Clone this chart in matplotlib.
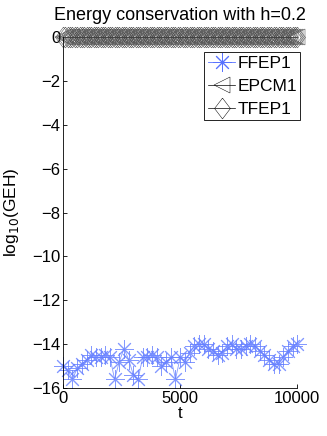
import numpy as np
import matplotlib
matplotlib.use("Agg")
import matplotlib.pyplot as plt

plt.rcParams['font.family'] = ['Liberation Sans', 'DejaVu Sans']

# FFEP1 error, sampled every 200 time units
t_ffep = list(range(0, 10001, 200))
geh_ffep = [-15.0, -15.2, -15.6, -15.1, -14.9, -14.7, -14.5, -14.6, -14.6, -14.5,
            -14.6, -15.6, -14.8, -14.2, -14.7, -15.4, -15.6, -14.6, -14.6, -14.5,
            -14.6, -15.0, -14.8, -14.6, -15.6, -14.6, -14.8, -14.4, -14.1, -14.0,
            -14.0, -14.2, -14.3, -14.5, -14.4, -14.1, -14.0, -14.2, -14.2, -14.1,
            -14.0, -14.1, -14.3, -14.5, -14.7, -14.9, -14.9, -14.6, -14.3, -14.1,
            -14.0]

# EPCM1 / TFEP1 stay at log10(GEH) ~ 0
t_dense = list(range(0, 10001, 100))
geh_epcm = [0.0] * len(t_dense)
geh_tfep = [0.0] * len(t_dense)

# matlab-style diamond: taller than wide
diamond = [(0, 1), (0.76, 0), (0, -1), (-0.76, 0), (0, 1)]

fig = plt.figure(figsize=(3.27, 4.36), dpi=100)
ax = fig.add_axes([0.193, 0.110, 0.716, 0.805])

ax.plot(t_ffep, geh_ffep, color=(0.4, 0.5, 1.0), marker=(8, 2, 0), markersize=13,
        markeredgewidth=0.7, linewidth=0.6, alpha=0.8, clip_on=False, label='FFEP1')
ax.plot(t_dense, geh_epcm, color=(0.25, 0.25, 0.25), marker='<', markersize=12,
        markerfacecolor='none', markeredgewidth=0.35, linewidth=0.5, clip_on=False,
        label='EPCM1')
ax.plot(t_dense, geh_tfep, color=(0.25, 0.25, 0.25), marker=diamond, markersize=15,
        markerfacecolor='none', markeredgewidth=0.35, linewidth=0.5, clip_on=False,
        label='TFEP1')

ax.set_xlim(0, 10000)
ax.set_ylim(-16, 0)
ax.set_xticks([0, 5000, 10000])
ax.set_yticks(range(-16, 1, 2))
ax.tick_params(direction='in', length=3, labelsize=12, width=0.6, pad=2)
for s in ['top', 'right']:
    ax.spines[s].set_visible(False)
for s in ['left', 'bottom']:
    ax.spines[s].set_linewidth(0.6)

ax.set_xlabel('t', fontsize=12, labelpad=0)
ax.set_ylabel('log$_{10}$(GEH)', fontsize=12.5, labelpad=8)
ax.set_title('Energy conservation with h=0.2', fontsize=13, pad=12)

leg = ax.legend(loc='upper right', bbox_to_anchor=(1.013, 0.957), fontsize=12.5,
                fancybox=False, edgecolor='k', framealpha=1, borderpad=0.2,
                handlelength=1.6, handletextpad=0.1, labelspacing=0.45, borderaxespad=0)
leg.get_frame().set_linewidth(0.6)
for h in leg.legend_handles:
    h.set_color('k')
    h.set_alpha(1)
leg.legend_handles[0].set_color((0.35, 0.45, 1.0))

fig.savefig('out.png', dpi=100)
